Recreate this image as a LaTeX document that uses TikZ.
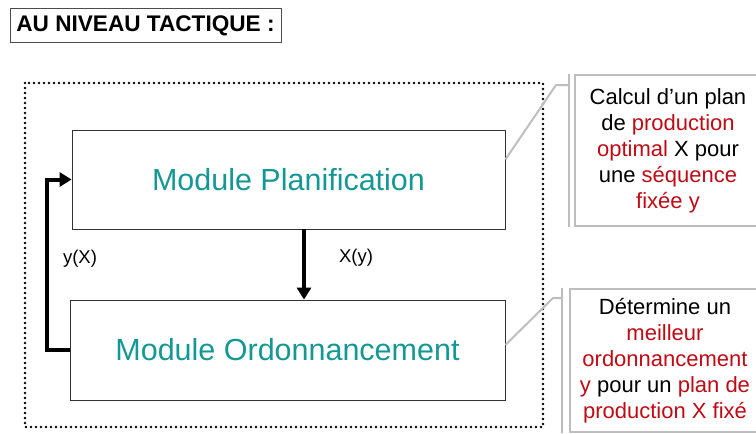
\documentclass[tikz,border=0pt]{standalone}
\usepackage{fontspec}
\setmainfont{Liberation Sans}
\usetikzlibrary{arrows.meta}
\definecolor{teal1}{RGB}{20,152,148}
\definecolor{red1}{RGB}{192,10,20}
\definecolor{gray1}{RGB}{190,190,190}
\newcommand{\rd}[1]{\textcolor{red1}{#1}}
\tikzset{titlebox/.style={draw=black!70, line width=1pt, rectangle, minimum width=271pt, minimum height=34pt, inner sep=0pt, font=\fontsize{22.6}{24}\selectfont\bfseries}}
\tikzset{module/.style={draw=black!80, line width=0.8pt, rectangle, inner sep=0pt, text=teal1, font=\fontsize{30.5}{32}\selectfont}}
\tikzset{callout/.style={draw=gray1, line width=2pt, rectangle, inner sep=0pt, align=center, font=\fontsize{22}{26}\selectfont}}
\tikzset{flow/.style={line width=4pt, -{Triangle[width=14pt,length=12pt]}}}
\tikzset{calline/.style={draw=gray1, line width=2pt}}
\tikzset{lbl/.style={font=\fontsize{18.5}{20}\selectfont}}

\begin{document}
\begin{tikzpicture}[x=1pt, y=-1pt]
    \useasboundingbox (0,0) rectangle (756,434);
    \node[titlebox] at (145.5,25.5) (titre) {AU NIVEAU TACTIQUE :};
    % cadre en pointilles
    \draw[line width=2.8pt, line cap=round, dash pattern=on 0pt off 5pt] (25,83) rectangle (543,427);
    \node[module, minimum width=433pt, minimum height=99pt] at (288.5,179.5) (plan) {Module Planification};
    \node[module, minimum width=435pt, minimum height=100pt] at (287.5,350) (ordo) {Module Ordonnancement};
    \coordinate (xcol) at (304,0);
    \draw[flow] (plan.south -| xcol) -- (ordo.north -| xcol);
    \draw[flow] (ordo.west) -- ++(-23,0) |- (plan.west);
    \node[lbl] at (80,259) (yX) {y(X)};
    \node[lbl] at (356,258) (Xy) {X(y)};
    % commentaires
    \node[callout, minimum width=186pt, minimum height=151pt] at (668,150.5) (call1)
        {Calcul d'un plan\\de \rd{production}\\\rd{optimal} X pour\\une \rd{séquence}\\\rd{fixée y}};
    \node[callout, minimum width=191pt, minimum height=143pt] at (665,360.5) (call2)
        {Détermine un\\\rd{meilleur}\\\rd{ordonnancement}\\\rd{y} pour un \rd{plan de}\\\rd{production X fixé}};
    \draw[calline] ([xshift=-5pt]call1.north west) -- ([xshift=-5pt]call1.south west);
    \draw[calline] ([xshift=-7pt]call2.north west) -- ([xshift=-7pt]call2.south west);
    \coordinate (k1) at (556,85);
    \coordinate (b1) at (570,85);
    \coordinate (k2) at (553,298);
    \coordinate (b2) at (563,298);
    \draw[calline] ([yshift=20pt]plan.east) -- (k1) -- (b1);
    \draw[calline] ([yshift=5pt]ordo.east) -- (k2) -- (b2);
\end{tikzpicture}
\end{document}
